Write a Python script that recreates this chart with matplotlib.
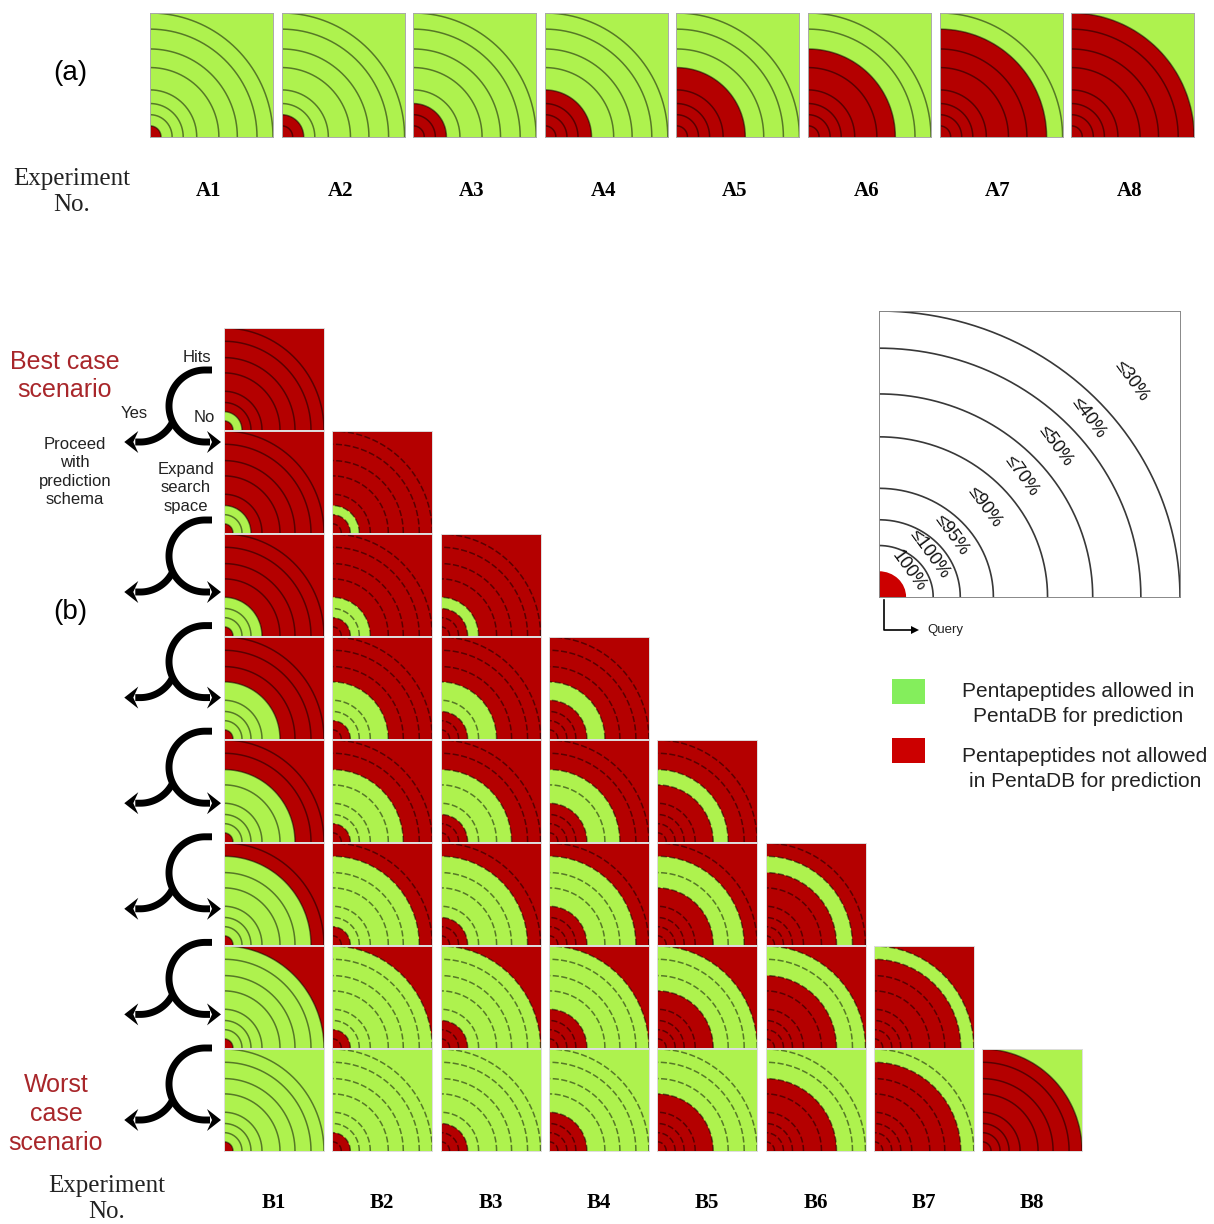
import numpy as np
import matplotlib
matplotlib.use("Agg")
import matplotlib.pyplot as plt
from matplotlib.patches import Wedge, Rectangle, Polygon

# ---------------- data ----------------
ring_radii = [0.09, 0.18, 0.27, 0.38, 0.56, 0.71, 0.87, 1.0]
ring_labels = ['100%', '≤100%', '≤95%', '≤90%', '≤70%', '≤50%', '≤40%', '≤30%']
a_labels = ['A1', 'A2', 'A3', 'A4', 'A5', 'A6', 'A7', 'A8']
a_red_radius = [0.09, 0.18, 0.27, 0.38, 0.56, 0.71, 0.87, 1.0]
b_labels = ['B1', 'B2', 'B3', 'B4', 'B5', 'B6', 'B7', 'B8']
b_col_inner = [0.09, 0.18, 0.27, 0.38, 0.56, 0.71, 0.87, 1.0]
b_row_outer = [0.18, 0.27, 0.38, 0.56, 0.71, 0.87, 1.0, None]
legend_labels = ['Pentapeptides allowed in\nPentaDB for prediction',
                 'Pentapeptides not allowed\nin PentaDB for prediction']

GREEN = '#aef24e'
RED = '#b40000'
LEG_GREEN = '#84ee5c'
LEG_RED = '#cc0000'
SCEN = '#a8262a'
SANS = ['Liberation Sans', 'DejaVu Sans']
SERIF = ['Liberation Serif', 'DejaVu Serif']

W, H = 1214, 1224
fig = plt.figure(figsize=(W / 100, H / 100), dpi=100)
fig.patch.set_facecolor('white')


def box(x, y, w, h):
    return [x / W, 1 - (y + h) / H, w / W, h / H]


ov = fig.add_axes([0, 0, 1, 1])
ov.set_xlim(0, W)
ov.set_ylim(H, 0)
ov.axis('off')

theta = np.linspace(0, np.pi / 2, 200)


def draw_rings(ax, ls='-', color='k', alpha=0.5, lw=1.1, radii=ring_radii):
    for r in radii:
        ax.plot(r * np.cos(theta), r * np.sin(theta), color=color, alpha=alpha,
                lw=lw, ls=ls, solid_capstyle='butt')


def setup_tile(ax, edge='#bbbbbb'):
    ax.set_xlim(0, 1)
    ax.set_ylim(0, 1)
    ax.set_xticks([])
    ax.set_yticks([])
    for s in ax.spines.values():
        s.set_color(edge)
        s.set_linewidth(0.7)


# ---------------- panel (a) ----------------
a_left0, a_pitch, a_w, a_top, a_h = 150, 131.6, 123, 13, 124
for k, lab in enumerate(a_labels):
    x = a_left0 + k * a_pitch
    ax = fig.add_axes(box(x, a_top, a_w, a_h))
    setup_tile(ax, '#aaaaaa')
    ax.set_facecolor(GREEN)
    ax.add_patch(Wedge((0, 0), a_red_radius[k], 0, 90, color=RED, lw=0))
    draw_rings(ax)
    ov.text(x + a_w / 2 - 3, 191, lab, ha='center', va='center', fontsize=15,
            fontweight='bold', family=SERIF)

ov.text(72, 192, 'Experiment\nNo.', ha='center', va='center', fontsize=18,
        family=SERIF, linespacing=1.25, color='#222222')
ov.text(70, 73, '(a)', ha='center', va='center', fontsize=20, family=SANS)

# ---------------- panel (b) ----------------
b_left0, b_pitch, b_w = 224, 108.3, 100
r_top0, r_pitch, r_h = 328, 103, 102
for i in range(8):
    for j in range(i + 1):
        x = b_left0 + j * b_pitch
        y = r_top0 + i * r_pitch
        ax = fig.add_axes(box(x, y, b_w, r_h))
        setup_tile(ax, '#dddddd')
        outer = b_row_outer[i]
        if outer is None:
            ax.set_facecolor(GREEN)
        else:
            ax.set_facecolor(RED)
            ax.add_patch(Wedge((0, 0), outer, 0, 90, color=GREEN, lw=0))
        ax.add_patch(Wedge((0, 0), b_col_inner[j], 0, 90, color=RED, lw=0))
        ls = '-' if j in (0, 7) else (0, (4, 1.6))
        draw_rings(ax, ls=ls)

for j, lab in enumerate(b_labels):
    ov.text(b_left0 + j * b_pitch + b_w / 2, 1203, lab, ha='center', va='center',
            fontsize=15, fontweight='bold', family=SERIF)
ov.text(107, 1199, 'Experiment\nNo.', ha='center', va='center', fontsize=18,
        family=SERIF, linespacing=1.25, color='#222222')
ov.text(70, 612, '(b)', ha='center', va='center', fontsize=20, family=SANS)

# scenario labels
ov.text(65, 376, 'Best case\nscenario', ha='center', va='center', fontsize=18,
        family=SANS, color=SCEN, linespacing=1.22)
ov.text(56, 1114, 'Worst\ncase\nscenario', ha='center', va='center', fontsize=18,
        family=SANS, color=SCEN, linespacing=1.24)

# flow arrows


def arrow_head(tx, ty, direction):
    d = direction
    pts = [(tx, ty), (tx - d * 14, ty - 11), (tx - d * 9, ty), (tx - d * 14, ty + 11)]
    ov.add_patch(Polygon(pts, closed=True, color='black', lw=0))


def flow_unit(ty):
    cx, cy, r = 205, ty + 36, 36
    th = np.radians(np.linspace(270, 90, 120))
    xs = np.concatenate([[212], cx + r * np.cos(th), [210]])
    ys = np.concatenate([[ty], cy + r * np.sin(th), [ty + 72]])
    ov.plot(xs, ys, color='black', lw=5.0, solid_capstyle='butt', solid_joinstyle='round')
    arrow_head(221, ty + 72, 1)
    xj = cx + r * np.cos(np.radians(154))
    th2 = np.radians(np.linspace(154, 90, 60))
    xl = 2 * xj - np.concatenate([cx + r * np.cos(th2), [210]])
    yl = np.concatenate([cy + r * np.sin(th2), [ty + 72]])
    ov.plot(xl, yl, color='black', lw=5.0, solid_capstyle='butt')
    arrow_head(2 * xj - 221, ty + 72, -1)


for ty in [370, 520, 625.6, 731.2, 836.8, 942.4, 1048]:
    flow_unit(ty)

ov.text(197, 357, 'Hits', ha='center', va='center', fontsize=12, family=SANS, color='#222222')
ov.text(134, 413, 'Yes', ha='center', va='center', fontsize=12, family=SANS, color='#222222')
ov.text(204, 418, 'No', ha='center', va='center', fontsize=12, family=SANS, color='#222222')
ov.text(75, 472, 'Proceed\nwith\nprediction\nschema', ha='center', va='center',
        fontsize=12, family=SANS, linespacing=1.28, color='#222222')
ov.text(186, 488, 'Expand\nsearch\nspace', ha='center', va='center',
        fontsize=12, family=SANS, linespacing=1.28, color='#222222')

# ---------------- inset ----------------
ins = fig.add_axes(box(879, 311, 301, 286))
setup_tile(ins, '#888888')
ins.set_facecolor('white')
ins.add_patch(Wedge((0, 0), ring_radii[0], 0, 90, color=LEG_RED, lw=0))
draw_rings(ins, color='#222222', alpha=0.9, lw=1.2, radii=ring_radii[1:])
ang = np.radians(42)
for k, lab in enumerate(ring_labels):
    if k < len(ring_radii) - 1:
        rm = (ring_radii[k] + ring_radii[k + 1]) / 2
    else:
        rm = ring_radii[k] + 0.13
    ins.text(rm * np.cos(ang), rm * np.sin(ang), lab, rotation=-54, ha='center',
             va='center', fontsize=13, family=SANS, rotation_mode='anchor',
             color='#111111')

# query arrow
ov.plot([884, 884, 912], [600, 630, 630], color='black', lw=1.2)
ov.add_patch(Polygon([(919, 630), (911, 626), (911, 634)], closed=True, color='black', lw=0))
ov.text(927, 630, 'Query', ha='left', va='center', fontsize=9.5, family=SANS, color='#222222')

# ---------------- legend ----------------
ov.add_patch(Rectangle((892, 679), 33, 25, color=LEG_GREEN, lw=0))
ov.add_patch(Rectangle((892, 738), 33, 25, color=LEG_RED, lw=0))
ov.text(1078, 704, legend_labels[0], ha='center', va='center', fontsize=15,
        family=SANS, linespacing=1.4, color='#222222')
ov.text(1085, 769, legend_labels[1], ha='center', va='center', fontsize=15,
        family=SANS, linespacing=1.4, color='#222222')

fig.savefig('out.png', dpi=100, facecolor='white')
